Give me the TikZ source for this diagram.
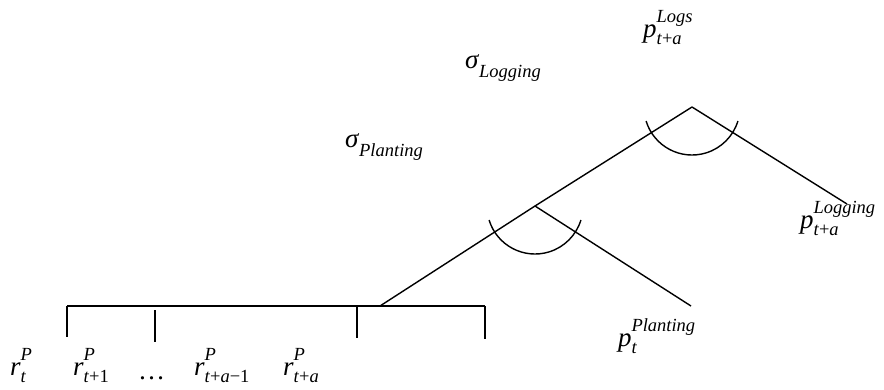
\documentclass[tikz,border=0pt]{standalone}
\usepackage{fontspec}
\setmainfont{Liberation Serif}
\newlength\mysupw
\newlength\mysubw
\newcommand\ssc[3]{#1{\fontsize{18.5}{18.5}\selectfont
  \settowidth\mysubw{#2}\settowidth\mysupw{#3}%
  \rlap{\raisebox{-0.43em}{#2}}\raisebox{0.76em}{#3}%
  \ifdim\mysubw>\mysupw\kern\dimexpr\mysubw-\mysupw\relax\fi}}
\newcommand\sgsub[2]{#1{\fontsize{18.5}{18.5}\selectfont\raisebox{-0.5em}{#2}}}
\begin{document}
\begin{tikzpicture}[x=1pt,y=-1pt,
  ln/.style={line width=1.4pt},
  lbl/.style={anchor=base west,inner sep=0pt,outer sep=0pt,font=\fontsize{27}{27}\selectfont}]
\useasboundingbox (0,0) rectangle (884,389);
% vertices
\coordinate (hl) at (67,306);
\coordinate (hr) at (485,306);
\coordinate (t1a) at (67,306);  \coordinate (t1b) at (67,337);
\coordinate (t2a) at (155,310); \coordinate (t2b) at (155,342);
\coordinate (t3a) at (357,306); \coordinate (t3b) at (357,338);
\coordinate (t4a) at (485,306); \coordinate (t4b) at (485,339);
\coordinate (root) at (380,306);
\coordinate (lo) at (535,206);
\coordinate (hi) at (692,107);
\coordinate (plant) at (691,306);
\coordinate (logg) at (847,204);
% lines
\draw[ln] (hl) -- (hr);
\draw[ln] (t1a) -- (t1b);
\draw[ln] (t2a) -- (t2b);
\draw[ln] (t3a) -- (t3b);
\draw[ln] (t4a) -- (t4b);
\draw[ln] (root) -- (lo) -- (hi);
\draw[ln] (lo) -- (plant);
\draw[ln] (hi) -- (logg);
% arcs
\draw[ln] ([shift={(163:48)}]lo) arc[start angle=163,end angle=17,radius=48];
\draw[ln] ([shift={(163:48)}]hi) arc[start angle=163,end angle=17,radius=48];
% labels
\node[lbl] (Llogs) at (643,37) {\ssc{\textit{p}}{\textit{t}+\textit{a}}{\textit{Logs}}};
\node[lbl] (Llogging) at (800,228) {\ssc{\textit{p}}{\textit{t}+\textit{a}}{\textit{Logging}}};
\node[lbl] (Lplant) at (618,346) {\ssc{\textit{p}}{\textit{t}}{\textit{Planting}}};
\node[lbl] (Sl) at (465,68) {\sgsub{\textit{σ}}{\textit{Logging}}};
\node[lbl] (Sp) at (345,147) {\sgsub{\textit{σ}}{\textit{Planting}}};
\node[lbl] (r0) at (10,375) {\ssc{\textit{r}}{\textit{t}}{\textit{P}}};
\node[lbl] (r1) at (73,375) {\ssc{\textit{r}}{\textit{t}+1}{\textit{P}}};
\node[lbl] (dots) at (138,379) {…};
\node[lbl] (r2) at (194,375) {\ssc{\textit{r}}{\textit{t}+\textit{a}−1}{\textit{P}}};
\node[lbl] (r3) at (283,375) {\ssc{\textit{r}}{\textit{t}+\textit{a}}{\textit{P}}};
\end{tikzpicture}
\end{document}
